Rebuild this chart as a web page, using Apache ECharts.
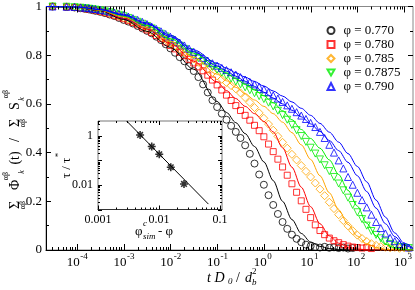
<!DOCTYPE html>
<html><head><meta charset="utf-8">
<script src="https://cdn.jsdelivr.net/npm/echarts@6/dist/echarts.min.js"></script>
<style>html,body{margin:0;padding:0;background:#fff}#c{width:415px;height:290px}</style>
</head><body><div id="c"></div>
<script>
// log10 of t D0 / d_b^2 for the simulation points
const logTime = [-4.52,-4.22,-4.05,-3.92,-3.82,-3.74,-3.67,-3.6,
 -3.5,-3.4,-3.3,-3.2,-3.1,-3.0,-2.9,-2.8,-2.7,-2.6,-2.5,-2.4,-2.3,-2.2,-2.1,-2.0,
 -1.9,-1.8,-1.7,-1.6,-1.5,-1.4,-1.3,-1.2,-1.1,-1.0,-0.9,-0.8,-0.7,-0.6,-0.5,-0.4,
 -0.3,-0.2,-0.1,0,0.1,0.2,0.3,0.4,0.5,0.6,0.7,0.8,0.9,1.0,1.1,1.2,1.3,1.4,1.5,1.6,
 1.7,1.8,1.9,2.0,2.1,2.2,2.3,2.4,2.5,2.6,2.7,2.8,2.9,3.0,3.1];
const phi0770 = [1.0,0.998,0.996,0.993,0.99,0.988,0.985,0.982,
 0.978,0.973,0.967,0.961,0.953,0.945,0.938,0.93,0.92,0.91,0.9,0.89,0.876,0.862,0.845,0.828,
 0.81,0.792,0.775,0.755,0.735,0.71,0.68,0.647,0.615,0.587,0.56,0.535,0.51,0.485,0.46,0.43,
 0.395,0.355,0.31,0.268,0.225,0.185,0.148,0.115,0.087,0.063,0.046,0.032,0.022,0.016,0.012,0.01,0.013,0.009,0.011,0.008,
 0.01,0.006,0.008,null,null,null,null,null,null,null,null,null,null,null,null];
const phi0780 = [1.0,0.998,0.996,0.994,0.991,0.989,0.987,0.984,
 0.98,0.975,0.97,0.964,0.957,0.95,0.942,0.934,0.925,0.915,0.904,0.893,0.881,0.868,0.854,0.84,
 0.826,0.812,0.798,0.783,0.768,0.752,0.736,0.718,0.698,0.678,0.657,0.636,0.614,0.593,0.573,0.553,
 0.533,0.512,0.49,0.465,0.435,0.404,0.373,0.341,0.307,0.272,0.237,0.202,0.167,0.133,0.103,0.08,0.063,0.049,0.038,0.03,
 0.022,0.016,0.012,0.01,0.008,0.01,0.006,null,null,null,null,null,null,null,null];
const phi0785 = [1.0,0.999,0.997,0.995,0.992,0.99,0.988,0.986,
 0.982,0.978,0.973,0.967,0.961,0.955,0.948,0.94,0.931,0.921,0.911,0.9,0.889,0.877,0.864,0.851,
 0.838,0.825,0.811,0.798,0.785,0.771,0.757,0.743,0.729,0.715,0.701,0.688,0.675,0.662,0.645,0.626,
 0.606,0.585,0.563,0.541,0.517,0.492,0.467,0.442,0.418,0.393,0.37,0.347,0.323,0.3,0.275,0.25,0.223,0.196,0.17,0.145,
 0.121,0.099,0.079,0.061,0.047,0.035,0.026,0.019,0.014,0.011,0.009,0.011,0.007,0.009,0.006];
const phi07875 = [1.0,0.999,0.997,0.995,0.993,0.991,0.989,0.987,
 0.984,0.98,0.976,0.971,0.966,0.96,0.953,0.945,0.937,0.929,0.92,0.91,0.899,0.888,0.877,0.865,
 0.852,0.839,0.826,0.813,0.8,0.788,0.776,0.764,0.752,0.74,0.728,0.716,0.704,0.692,0.68,0.668,
 0.656,0.644,0.632,0.62,0.605,0.59,0.572,0.554,0.535,0.514,0.492,0.468,0.444,0.42,0.396,0.372,0.348,0.324,0.3,0.273,
 0.245,0.215,0.185,0.155,0.127,0.1,0.078,0.062,0.048,0.035,0.025,0.018,0.012,0.01,0.008];
const phi0790 = [1.0,0.999,0.998,0.996,0.995,0.993,0.991,0.989,
 0.986,0.983,0.979,0.975,0.97,0.965,0.959,0.952,0.945,0.937,0.928,0.918,0.908,0.898,0.887,0.876,
 0.864,0.852,0.84,0.827,0.814,0.801,0.789,0.778,0.767,0.757,0.748,0.739,0.73,0.72,0.71,0.70,
 0.69,0.68,0.67,0.66,0.648,0.635,0.622,0.608,0.594,0.58,0.566,0.552,0.538,0.522,0.505,0.485,0.46,0.432,0.40,0.368,
 0.335,0.30,0.268,0.235,0.205,0.175,0.145,0.115,0.09,0.068,0.05,0.036,0.025,0.016,0.01];

// theory curves (solid lines)
const lineLogTime = [-4.66,-4.0,-3.5,-3.0,-2.5,-2.0,-1.5,-1.0,-0.8,-0.6,-0.4,-0.2,0,0.2,0.4,0.6,0.8,1.0,1.2,1.4,1.6,1.8,2.0,2.2,2.4,2.6,2.8,3.0,3.19];
const fit0770 = [1.0,0.996,0.982,0.947,0.898,0.832,0.742,0.61,0.565,0.523,0.478,0.425,0.362,0.285,0.2,0.125,0.068,0.033,0.015,0.006,0.002,0,0,0,0,0,0,0,0];
const fit0780 = [1.0,0.997,0.984,0.952,0.907,0.848,0.775,0.69,0.655,0.622,0.59,0.56,0.528,0.485,0.42,0.34,0.258,0.178,0.108,0.058,0.028,0.012,0.004,0.001,0,0,0,0,0];
const fit0785 = [1.0,0.997,0.985,0.957,0.913,0.857,0.792,0.722,0.695,0.668,0.642,0.616,0.59,0.56,0.525,0.482,0.432,0.372,0.305,0.235,0.165,0.105,0.057,0.026,0.01,0.003,0.001,0,0];
const fit07875 = [1.0,0.997,0.986,0.961,0.922,0.868,0.808,0.748,0.726,0.703,0.68,0.657,0.633,0.605,0.572,0.535,0.495,0.458,0.418,0.37,0.31,0.245,0.18,0.11,0.058,0.024,0.008,0.002,0];
const fit0790a = [1.0,0.998,0.988,0.967,0.932,0.882,0.822,0.767,0.747,0.728,0.71,0.692,0.673,0.653,0.632,0.608,0.582,0.553,0.52,0.484,0.443,0.396,0.343,0.28,0.205,0.135,0.07,0.028,0.008];
const fit0790b = [1.0,0.998,0.987,0.964,0.928,0.876,0.814,0.756,0.735,0.714,0.693,0.672,0.648,0.624,0.6,0.574,0.547,0.518,0.487,0.45,0.408,0.36,0.305,0.24,0.172,0.108,0.055,0.02,0.005];

const seriesNames = ['φ = 0.770','φ = 0.780','φ = 0.785','φ = 0.7875','φ = 0.790'];
const seriesColors = ['#000000','#ff0000','#ffa500','#00ee00','#0000ff'];

// x-axis decades (exponents of 10)
const xDecades = [-4,-3,-2,-1,0,1,2,3];
const minorFactors = [2,3,4,5,6,7,8,9];

// inset: tau/tau* vs phi_c_sim - phi
const insetPhiDiff = [0.0049,0.0076,0.0101,0.0156,0.0257];
const insetTauRatio = [1.1,0.37,0.18,0.053,0.011];
const insetFitX = [0.00295,0.0646];
const insetFitY = [4.09,0.00166];
const insetXDecades = [-3,-2,-1];
const insetYDecades = [-3,-2,-1,0];
const insetXLabels = {'-3':'0.001','-2':'0.01','-1':'0.1'};
const insetYLabels = {'0':'1','-2':'0.01'};

const X_MIN = -4.66, X_MAX = 3.19;
const IX_MIN = -3, IX_MAX = -0.967, IY_MIN = -3, IY_MAX = 0.612;
const SERIF = '"Liberation Serif", "DejaVu Serif", serif';

function pairs(xs, ys){ const out=[]; xs.forEach((x,i)=>{ if(ys[i]!=null) out.push([x,ys[i]]); }); return out; }

// tick data
const mainXTicks = [];
xDecades.forEach(d=>mainXTicks.push([d,6]));
for(let d=-5; d<=3; d++){ minorFactors.forEach(k=>{ const v=d+Math.log10(k); if(v>X_MIN && v<X_MAX) mainXTicks.push([v,3]); }); }
const mainXLabelData = xDecades.map((d,i)=>[d,0,i]);

const insetTicks = [];
insetXDecades.forEach(d=>insetTicks.push([d,4,0]));
insetYDecades.forEach(d=>insetTicks.push([d,4,1]));
for(let d=-3; d<=0; d++){ minorFactors.forEach(k=>{ const v=d+Math.log10(k);
  if(v>IX_MIN && v<IX_MAX) insetTicks.push([v,2,0]);
  if(v>IY_MIN && v<IY_MAX) insetTicks.push([v,2,1]); }); }

const DOWN_TRI = 'path://M-5,-4.3L5,-4.3L0,4.3Z';
const symbols = ['circle','rect','diamond',DOWN_TRI,'triangle'];
const symbolSizes = [7,6,8,7,7];
const dataSets = [phi0770,phi0780,phi0785,phi07875,phi0790];
const fitSets = [fit0770,fit0780,fit0785,fit07875,fit0790a,fit0790b];
const fitColors = ['#000000','#ff0000','#ffa500','#00ee00','#0000ff','#0000ff'];

const series = [];
dataSets.forEach((ys,i)=>{
  series.push({type:'scatter', name:seriesNames[i], xAxisIndex:0, yAxisIndex:0,
    data:pairs(logTime, ys), symbol:symbols[i], symbolSize:symbolSizes[i],
    itemStyle:{color:'rgba(0,0,0,0)', borderColor:seriesColors[i], borderWidth:1}, silent:true});
});
fitSets.forEach((ys,i)=>{
  series.push({type:'line', xAxisIndex:0, yAxisIndex:0, data:pairs(lineLogTime, ys), showSymbol:false,
    smooth:0.3, smoothMonotone:'x', lineStyle:{color:fitColors[i], width:1}, silent:true, z:3});
});
// main x ticks (bottom and top)
series.push({type:'custom', xAxisIndex:0, yAxisIndex:0, data:mainXTicks, silent:true, clip:false, z:5,
  renderItem:(p,api)=>{ const v=api.value(0), len=api.value(1);
    const b=api.coord([v,0]), t=api.coord([v,1]); const x=Math.round(b[0])+0.5;
    return {type:'group', children:[
      {type:'line', shape:{x1:x,y1:b[1],x2:x,y2:b[1]-len}, style:{stroke:'#000',lineWidth:1}},
      {type:'line', shape:{x1:x,y1:t[1],x2:x,y2:t[1]+len}, style:{stroke:'#000',lineWidth:1}}]}; }});
// main x labels 10^n
series.push({type:'custom', xAxisIndex:0, yAxisIndex:0, data:mainXLabelData, silent:true, clip:false, z:5,
  renderItem:(p,api)=>{ const v=api.value(0), idx=api.value(2); const b=api.coord([v,0]);
    return {type:'group', children:[
      {type:'text', x:b[0]+3, y:b[1]+13, style:{text:'10', fontSize:13, fontFamily:SERIF, fill:'#000', align:'right', verticalAlign:'middle'}},
      {type:'text', x:b[0]+3.5, y:b[1]+7, style:{text:String(xDecades[idx]), fontSize:9, fontFamily:SERIF, fill:'#000', align:'left', verticalAlign:'middle'}}]}; }});
// inset
series.push({type:'line', xAxisIndex:1, yAxisIndex:1, data:pairs(insetFitX.map(Math.log10), insetFitY.map(Math.log10)),
  showSymbol:false, lineStyle:{color:'#000', width:1}, silent:true, clip:true});
series.push({type:'scatter', xAxisIndex:1, yAxisIndex:1, data:pairs(insetPhiDiff.map(Math.log10), insetTauRatio.map(Math.log10)),
  symbol:'path://M-1,-5L1,-5L1,5L-1,5Z M-5,-1L5,-1L5,1L-5,1Z M-2.8,-4.2L4.2,2.8L2.8,4.2L-4.2,-2.8Z M-4.2,2.8L2.8,-4.2L4.2,-2.8L-2.8,4.2Z',
  symbolSize:8, itemStyle:{color:'#000'}, silent:true});
series.push({type:'custom', xAxisIndex:1, yAxisIndex:1, data:insetTicks, silent:true, clip:false, z:5,
  renderItem:(p,api)=>{ const v=api.value(0), len=api.value(1), ax=api.value(2);
    if(ax===0){ const b=api.coord([v,IY_MIN]), t=api.coord([v,IY_MAX]); const x=Math.round(b[0])+0.5;
      return {type:'group', children:[
        {type:'line', shape:{x1:x,y1:b[1],x2:x,y2:b[1]-len}, style:{stroke:'#000',lineWidth:1}},
        {type:'line', shape:{x1:x,y1:t[1],x2:x,y2:t[1]+len}, style:{stroke:'#000',lineWidth:1}}]}; }
    const l=api.coord([IX_MIN,v]), r=api.coord([IX_MAX,v]); const y=Math.round(l[1])+0.5;
    return {type:'group', children:[
      {type:'line', shape:{x1:l[0],y1:y,x2:l[0]+len,y2:y}, style:{stroke:'#000',lineWidth:1}},
      {type:'line', shape:{x1:r[0],y1:y,x2:r[0]-len,y2:y}, style:{stroke:'#000',lineWidth:1}}]}; }});

const rot = Math.PI/2;
function T(text, x, y, size, opts){ return Object.assign({type:'text', x:x, y:y, silent:true,
  style:Object.assign({text:text, fontSize:size, fontFamily:SERIF, fill:'#000', align:'center', verticalAlign:'middle'}, (opts&&opts.style)||{})},
  opts&&opts.rotation?{rotation:opts.rotation}:{}); }
const R = {rotation:rot};
const RI = {rotation:rot, style:{fontStyle:'italic'}};
const I = {style:{fontStyle:'italic', align:'left'}};

const graphic = [
  // y-axis title: Σαβ Φkαβ(t) / Σαβ Skαβ
  T('Σ',15,205,14,R), T('αβ',23,205,8,R),
  T('Φ',15,185,14,R), T('αβ',6,176,8,R), T('k',22,172,8,RI),
  T('(t)',15,158,14,R),
  T('/',15,140,14,R),
  T('Σ',15,123,14,R), T('αβ',23,123,8,R),
  T('S',15,106,14,R), T('αβ',6,94,8,R), T('k',22,99,8,RI),
  // x-axis title: t D0 / db^2
  T('t D',207,278,14,I), T('0',228,282,9,I), T('/',236,278,14,{style:{align:'left'}}),
  T('d',245,278,14,I), T('b',252,283,9,I), T('2',252,272,9,{style:{align:'left'}}),
  // inset x title: φ^c_sim - φ
  T('φ',135,232,13,{style:{align:'left'}}), T('c',143,224,9,I), T('sim',143,237,9,I),
  T('- φ',158,232,13,{style:{align:'left'}}),
  // inset y title: τ / τ*
  T('τ / τ',67,168,13,R), T('*',59,155,9,R)
];

const chart = echarts.init(document.getElementById('c'), null, {renderer:'canvas'});
chart.setOption({
  animation:false,
  backgroundColor:'#fff',
  grid:[
    {left:46, top:5, width:367, height:245, show:true, borderColor:'#888', borderWidth:1},
    {left:98, top:121, width:124, height:88.5, show:true, borderColor:'#777', borderWidth:1, backgroundColor:'#fff'}
  ],
  xAxis:[
    {type:'value', gridIndex:0, min:X_MIN, max:X_MAX, axisLine:{onZero:false, lineStyle:{color:'#000'}}, axisTick:{show:false}, axisLabel:{show:false}, splitLine:{show:false}},
    {type:'value', gridIndex:1, min:IX_MIN, max:IX_MAX, interval:1, axisLine:{onZero:false, lineStyle:{color:'#333'}}, axisTick:{show:false},
      axisLabel:{margin:4, fontSize:12, fontFamily:SERIF, color:'#000', formatter:v=>{const r=Math.round(v); return Math.abs(v-r)<1e-6 && insetXLabels[String(r)]? insetXLabels[String(r)] : '';}},
      splitLine:{show:false}}
  ],
  yAxis:[
    {type:'value', gridIndex:0, min:0, max:1, interval:0.2, axisLine:{show:true, onZero:false, lineStyle:{color:'#000'}},
      axisTick:{inside:true, length:5, lineStyle:{color:'#000'}}, minorTick:{show:true, splitNumber:2, length:3, lineStyle:{color:'#000'}},
      axisLabel:{margin:4, fontSize:13, fontFamily:SERIF, color:'#000', formatter:v=>(Math.abs(v)<1e-9?'0':(Math.abs(v-1)<1e-9?'1':v.toFixed(1)))},
      splitLine:{show:false}},
    {type:'value', gridIndex:1, min:IY_MIN, max:IY_MAX, interval:1, axisLine:{show:false, onZero:false}, axisTick:{show:false},
      axisLabel:{margin:5, fontSize:12, fontFamily:SERIF, color:'#000', formatter:v=>{const r=Math.round(v); return Math.abs(v-r)<1e-6 && insetYLabels[String(r)]? insetYLabels[String(r)] : '';}},
      splitLine:{show:false}},
    {type:'value', gridIndex:0, position:'right', min:0, max:1, interval:0.2, axisLine:{show:false, onZero:false},
      axisTick:{inside:true, length:5, lineStyle:{color:'#000'}}, minorTick:{show:true, splitNumber:2, length:3, lineStyle:{color:'#000'}},
      axisLabel:{show:false}, splitLine:{show:false}}
  ],
  legend:{data:seriesNames, orient:'vertical', left:321.5, top:19, itemWidth:7, itemHeight:7, itemGap:1,
    textStyle:{fontFamily:SERIF, fontSize:13, color:'#000', padding:[0,0,0,4]}, selectedMode:false},
  graphic:graphic,
  series:series
});
</script></body></html>
